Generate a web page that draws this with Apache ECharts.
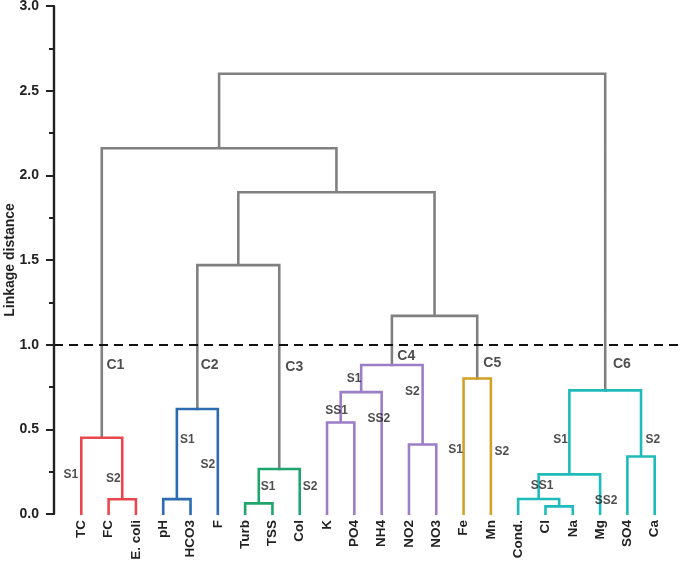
<!DOCTYPE html>
<html><head><meta charset="utf-8">
<script src="https://cdn.jsdelivr.net/npm/echarts@6/dist/echarts.min.js"></script>
<style>html,body{margin:0;padding:0;background:#fff}#c{width:685px;height:562px}</style>
</head><body><div id="c"></div>
<script>
// Leaves (in dendrogram order)
const leaves = ['TC','FC','E. coli','pH','HCO3','F','Turb','TSS','Col','K','PO4','NH4','NO2','NO3','Fe','Mn','Cond.','Cl','Na','Mg','SO4','Ca'];
// Merges: node ids < 22 are leaves, >= 22 are earlier merges (22 + merge index)
const mergeLeft   = [1, 0, 3, 24, 6, 26, 9, 28, 12, 29, 14, 17, 16, 34, 20, 35, 25, 31, 38, 23, 41];
const mergeRight  = [2, 22, 4, 5, 7, 8, 10, 11, 13, 30, 15, 18, 33, 19, 21, 36, 27, 32, 39, 40, 37];
const mergeHeight = [0.087, 0.45, 0.088, 0.62, 0.063, 0.266, 0.54, 0.72, 0.41, 0.88, 0.80, 0.045, 0.089, 0.234, 0.34, 0.73, 1.47, 1.17, 1.90, 2.16, 2.60];
const mergeGroup  = ['C1','C1','C2','C2','C3','C3','C4','C4','C4','C4','C5','C6','C6','C6','C6','C6','G','G','G','G','G'];
const threshold = 1.0;
// Annotation labels: text, x (leaf units), y (linkage distance)
const annText = ['C1','C2','C3','C4','C5','C6'];
const annX = [2.25, 5.7, 8.8, 12.9, 16.05, 20.8];
const annY = [0.88, 0.88, 0.87, 0.93, 0.89, 0.885];
const subText = ['S1','S2','S1','S2','S1','S2','S1','SS1','SS2','S2','S1','S2','S1','S2','SS1','SS2'];
const subX = [0.62, 2.17, 4.88, 5.63, 7.84, 9.38, 10.99, 10.35, 11.9, 13.12, 14.71, 16.4, 18.55, 21.93, 17.88, 20.22];
const subY = [0.23, 0.21, 0.44, 0.29, 0.16, 0.16, 0.80, 0.61, 0.56, 0.72, 0.38, 0.37, 0.44, 0.44, 0.165, 0.08];

const colors = {C1:'#e9464f', C2:'#2c6bb2', C3:'#1ea56b', C4:'#9b7ec6', C5:'#d2a126', C6:'#1fbaba', G:'#808080'};
const FONT = 'Liberation Sans, Arial, sans-serif';

const n = leaves.length;
const nodeX = [], nodeY = [];
for (let i = 0; i < n; i++) { nodeX[i] = i + 1; nodeY[i] = 0; }
const segs = {};
mergeLeft.forEach((l, k) => {
  const r = mergeRight[k], h = mergeHeight[k], g = mergeGroup[k];
  const id = n + k;
  nodeX[id] = (nodeX[l] + nodeX[r]) / 2;
  nodeY[id] = h;
  if (!segs[g]) segs[g] = [];
  segs[g].push([nodeX[l], nodeY[l]], [nodeX[l], h], [nodeX[r], h], [nodeX[r], nodeY[r]], '-');
});

const series = Object.keys(segs).map((g) => ({
  type: 'line', data: segs[g], showSymbol: false, symbol: 'none', connectNulls: false,
  lineStyle: { color: colors[g], width: 2.6, join: 'miter', cap: 'square' }, silent: true,
  z: g === 'G' ? 2 : 3
}));
series.push({
  type: 'line', data: [], silent: true,
  markLine: { symbol: 'none', silent: true, label: { show: false },
    lineStyle: { color: '#111', width: 2.2, type: [9, 6] },
    data: [{ yAxis: threshold }] }, z: 5
});
series.push({
  type: 'line', data: [], silent: true,
  markLine: { symbol: 'none', silent: true, label: { show: false },
    lineStyle: { color: '#222', width: 2.2, type: 'solid' },
    data: [{ xAxis: 0 }] }, z: 6
});
series.push({
  type: 'scatter', symbolSize: 0, silent: true, z: 6,
  data: annText.map((t, i) => ({ value: [annX[i], annY[i]], name: t })),
  label: { show: true, position: 'inside', formatter: (p) => p.name, color: '#222', fontFamily: FONT, fontWeight: 'bold', fontSize: 14 }
});
series.push({
  type: 'scatter', symbolSize: 0, silent: true, z: 6,
  data: subText.map((t, i) => ({ value: [subX[i], subY[i]], name: t })),
  label: { show: true, position: 'inside', formatter: (p) => p.name, color: '#222', fontFamily: FONT, fontWeight: 'bold', fontSize: 12 }
});

const chart = echarts.init(document.getElementById('c'), null, { renderer: 'canvas' });
chart.setOption({
  animation: false,
  backgroundColor: '#fff',
  grid: { left: 54, right: 3, top: 6, bottom: 48, containLabel: false, outerBoundsMode: 'none' },
  xAxis: {
    type: 'value', min: 0, max: n + 1, interval: 1,
    axisLine: { show: false }, axisTick: { show: false }, splitLine: { show: false },
    axisLabel: {
      rotate: 90, margin: 6, color: '#222', fontFamily: FONT, fontWeight: 'bold', fontSize: 13.5,
      formatter: (v) => (v >= 1 && v <= n ? leaves[v - 1] : '')
    }
  },
  yAxis: {
    type: 'value', min: 0, max: 3, interval: 0.5,
    name: 'Linkage distance', nameLocation: 'middle', nameGap: 37, nameMoveOverlap: false,
    nameTextStyle: { color: '#222', fontFamily: FONT, fontWeight: 'bold', fontSize: 14 },
    axisLine: { show: true, onZero: false, lineStyle: { color: '#222', width: 2.2 } },
    axisTick: { show: true, length: 8, lineStyle: { color: '#222', width: 2 } },
    minorTick: { show: true, splitNumber: 2, length: 5, lineStyle: { color: '#222', width: 2 } },
    splitLine: { show: false },
    axisLabel: { margin: 15, color: '#222', fontFamily: FONT, fontWeight: 'bold', fontSize: 14, formatter: (v) => v.toFixed(1) }
  },
  series
});
</script></body></html>
